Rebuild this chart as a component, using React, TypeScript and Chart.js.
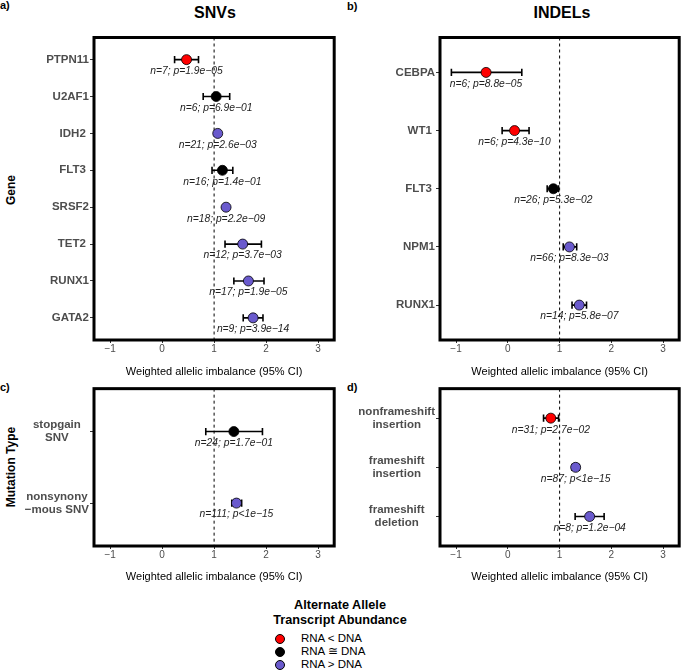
import React, { useEffect, useRef } from "react";
import { Chart, registerables } from "chart.js";

Chart.register(...registerables);

const FONT = '"Liberation Sans", Arial, Helvetica, sans-serif';

// ---- shared axis ----
const xTicks = [-1, 0, 1, 2, 3];
const xMin = -1.31;
const xMax = 3.31;
const refLine = 1;
const xTitle = "Weighted allelic imbalance (95% CI)";

const classColors: Record<string, string> = { lt: "#FF0000", eq: "#000000", gt: "#6A5ACD" };

// ---- a) SNVs by gene ----
const snvGenes = ["PTPN11", "U2AF1", "IDH2 ", "FLT3 ", "SRSF2", "TET2 ", "RUNX1", "GATA2"];
const snvEst = [0.47, 1.04, 1.07, 1.16, 1.23, 1.55, 1.66, 1.75];
const snvLo = [0.24, 0.79, 1.03, 0.96, 1.19, 1.21, 1.38, 1.56];
const snvHi = [0.7, 1.3, 1.11, 1.36, 1.27, 1.91, 1.96, 1.94];
const snvN = [7, 6, 21, 16, 18, 12, 17, 9];
const snvP = ["=1.9e-05", "=6.9e-01", "=2.6e-03", "=1.4e-01", "=2.2e-09", "=3.7e-03", "=1.9e-05", "=3.9e-14"];
const snvClass = ["lt", "eq", "gt", "eq", "gt", "gt", "gt", "gt"];

// ---- b) INDELs by gene ----
const indelGenes = ["CEBPA", "WT1 ", "FLT3 ", "NPM1", "RUNX1"];
const indelEst = [-0.42, 0.13, 0.88, 1.19, 1.38];
const indelLo = [-1.09, -0.11, 0.76, 1.07, 1.24];
const indelHi = [0.27, 0.41, 0.98, 1.33, 1.52];
const indelN = [6, 6, 26, 66, 14];
const indelP = ["=8.8e-05", "=4.3e-10", "=5.3e-02", "=8.3e-03", "=5.8e-07"];
const indelClass = ["lt", "lt", "eq", "gt", "gt"];

// ---- c) SNVs by mutation type ----
const snvTypes = [["stopgain", "SNV"], ["nonsynony", "\u2212mous SNV"]];
const snvTypeEst = [1.38, 1.43];
const snvTypeLo = [0.84, 1.34];
const snvTypeHi = [1.93, 1.53];
const snvTypeN = [24, 111];
const snvTypeP = ["=1.7e-01", "<1e-15"];
const snvTypeClass = ["eq", "gt"];

// ---- d) INDELs by mutation type ----
const indelTypes = [["nonframeshift", "insertion"], ["frameshift", "insertion"], ["frameshift", "deletion"]];
const indelTypeEst = [0.83, 1.31, 1.58];
const indelTypeLo = [0.69, 1.24, 1.3];
const indelTypeHi = [0.98, 1.38, 1.86];
const indelTypeN = [31, 87, 8];
const indelTypeP = ["=2.7e-02", "<1e-15", "=1.2e-04"];
const indelTypeClass = ["lt", "gt", "gt"];

const minus = (s: string) => s.replace(/-/g, "\u2212");

type PanelProps = {
  left: number;
  top: number;
  width: number;
  height: number;
  padTop: number;
  padRight: number;
  yAxisWidth: number;
  xAxisHeight: number;
  labels: (string | string[])[];
  est: number[];
  lo: number[];
  hi: number[];
  n: number[];
  p: string[];
  cls: string[];
  crossAlign: "near" | "center";
};

function Panel(props: PanelProps) {
  const ref = useRef<HTMLCanvasElement>(null);
  useEffect(() => {
    const { labels, est, lo, hi, n, p, cls } = props;
    const datasets: any[] = [
      {
        type: "scatter",
        data: est.map((v, i) => ({ x: v, y: i })),
        pointRadius: 5,
        pointBackgroundColor: cls.map((c) => classColors[c]),
        pointBorderColor: "#000",
        pointBorderWidth: 0.8,
        order: 0,
      },
    ];
    lo.forEach((l, i) => {
      datasets.push({
        type: "line",
        data: [
          { x: l, y: i },
          { x: hi[i], y: i },
        ],
        borderColor: "#000",
        borderWidth: 1.6,
        pointStyle: "line",
        pointRotation: 90,
        pointRadius: 3.6,
        pointBorderWidth: 1.6,
        pointBorderColor: "#000",
        pointBackgroundColor: "#000",
        fill: false,
        tension: 0,
        order: 1,
      });
    });

    const deco = {
      id: "deco",
      beforeDatasetsDraw(chart: any) {
        const { ctx, chartArea, scales } = chart;
        const x = scales.x.getPixelForValue(refLine);
        ctx.save();
        ctx.strokeStyle = "#000";
        ctx.lineWidth = 1;
        ctx.setLineDash([3, 3]);
        ctx.beginPath();
        ctx.moveTo(x, chartArea.top);
        ctx.lineTo(x, chartArea.bottom);
        ctx.stroke();
        ctx.restore();
      },
      afterDatasetsDraw(chart: any) {
        const { ctx, chartArea, scales } = chart;
        ctx.save();
        ctx.font = `italic 10.3px ${FONT}`;
        ctx.fillStyle = "#222";
        ctx.textAlign = "center";
        ctx.textBaseline = "middle";
        est.forEach((v, i) => {
          const x = scales.x.getPixelForValue(v);
          const y = scales.y.getPixelForValue(i) + 11.5;
          ctx.fillText(`n=${n[i]}; p${minus(p[i])}`, x, y);
        });
        ctx.strokeStyle = "#000";
        ctx.lineWidth = 3;
        ctx.strokeRect(chartArea.left, chartArea.top, chartArea.right - chartArea.left, chartArea.bottom - chartArea.top);
        ctx.restore();
      },
    };

    const chart = new Chart(ref.current as HTMLCanvasElement, {
      type: "scatter",
      data: { datasets },
      options: {
        animation: false,
        responsive: false,
        events: [],
        layout: { padding: { left: 0, right: props.padRight, top: props.padTop, bottom: 0 } },
        plugins: { legend: { display: false }, tooltip: { enabled: false } },
        scales: {
          x: {
            type: "linear",
            min: xMin,
            max: xMax,
            afterBuildTicks: (s: any) => {
              s.ticks = xTicks.map((v) => ({ value: v }));
            },
            afterFit: (s: any) => {
              s.height = props.xAxisHeight;
            },
            ticks: {
              callback: (v: any) => minus(String(v)),
              color: "#4D4D4D",
              font: { family: FONT, size: 10 },
              padding: 0,
              maxRotation: 0,
              autoSkip: false,
            },
            grid: { display: true, drawOnChartArea: false, drawTicks: true, tickLength: 3, tickColor: "#333", tickWidth: 1 },
            border: { display: false },
            title: {
              display: true,
              text: xTitle,
              color: "#000",
              font: { family: FONT, size: 11 },
              padding: { top: 0, bottom: 6.4 },
            },
          },
          y: {
            type: "linear",
            reverse: true,
            min: -0.6,
            max: labels.length - 0.4,
            afterBuildTicks: (s: any) => {
              s.ticks = labels.map((_, i) => ({ value: i }));
            },
            afterFit: (s: any) => {
              s.width = props.yAxisWidth;
            },
            ticks: {
              callback: (_v: any, i: number) => labels[i] as any,
              color: "#4D4D4D",
              font: { family: FONT, size: 11.5, weight: "bold", lineHeight: 1.1 },
              padding: 1,
              crossAlign: props.crossAlign,
              autoSkip: false,
            },
            grid: { display: true, drawOnChartArea: false, drawTicks: true, tickLength: 4, tickColor: "#333", tickWidth: 1 },
            border: { display: false },
          },
        },
      } as any,
      plugins: [deco],
    });
    return () => chart.destroy();
  }, []);
  return (
    <canvas
      ref={ref}
      width={props.width}
      height={props.height}
      style={{ position: "absolute", left: props.left, top: props.top, width: props.width, height: props.height }}
    />
  );
}

function T({ x, y, children, style }: { x: number; y: number; children: any; style?: any }) {
  return (
    <div
      style={{
        position: "absolute",
        left: x,
        top: y,
        transform: "translate(-50%,-50%)",
        whiteSpace: "nowrap",
        lineHeight: 1,
        ...style,
      }}
    >
      {children}
    </div>
  );
}

const legendTitle = ["Alternate Allele", "Transcript Abundance"];
const legendItems = [
  { cls: "lt", text: "RNA < DNA" },
  { cls: "eq", text: "RNA \u2245 DNA" },
  { cls: "gt", text: "RNA > DNA" },
];

export default function App() {
  const bold = { fontWeight: "bold" };
  return (
    <div style={{ position: "absolute", left: 0, top: 0, width: 685, height: 671, background: "#fff", fontFamily: FONT, overflow: "hidden" }}>
      <T x={215} y={13} style={{ ...bold, fontSize: 16 }}>SNVs</T>
      <T x={562} y={13} style={{ ...bold, fontSize: 16 }}>INDELs</T>
      <div style={{ position: "absolute", left: 0, top: -1, fontSize: 11, fontWeight: "bold" }}>a)</div>
      <div style={{ position: "absolute", left: 347, top: 0, fontSize: 11, fontWeight: "bold" }}>b)</div>
      <div style={{ position: "absolute", left: 0, top: 381, fontSize: 11, fontWeight: "bold" }}>c)</div>
      <div style={{ position: "absolute", left: 347, top: 381, fontSize: 11, fontWeight: "bold" }}>d)</div>
      <T x={11} y={190} style={{ ...bold, fontSize: 12, transform: "translate(-50%,-50%) rotate(-90deg)" }}>Gene</T>
      <T x={11} y={467} style={{ ...bold, fontSize: 12, transform: "translate(-50%,-50%) rotate(-90deg)" }}>Mutation Type</T>

      <Panel left={0} top={20} width={340} height={365} padTop={17.5} padRight={4.5} yAxisWidth={94} xAxisHeight={45}
        labels={snvGenes} est={snvEst} lo={snvLo} hi={snvHi} n={snvN} p={snvP} cls={snvClass} crossAlign="near" />
      <Panel left={345} top={20} width={340} height={365} padTop={17.5} padRight={2} yAxisWidth={95} xAxisHeight={45}
        labels={indelGenes} est={indelEst} lo={indelLo} hi={indelHi} n={indelN} p={indelP} cls={indelClass} crossAlign="near" />
      <Panel left={0} top={375} width={340} height={215} padTop={12.5} padRight={4.5} yAxisWidth={94} xAxisHeight={44}
        labels={snvTypes} est={snvTypeEst} lo={snvTypeLo} hi={snvTypeHi} n={snvTypeN} p={snvTypeP} cls={snvTypeClass} crossAlign="center" />
      <Panel left={345} top={375} width={340} height={215} padTop={12.5} padRight={2} yAxisWidth={95} xAxisHeight={44}
        labels={indelTypes} est={indelTypeEst} lo={indelTypeLo} hi={indelTypeHi} n={indelTypeN} p={indelTypeP} cls={indelTypeClass} crossAlign="center" />

      <T x={340} y={605} style={{ ...bold, fontSize: 12.7 }}>{legendTitle[0]}</T>
      <T x={340} y={620} style={{ ...bold, fontSize: 12.7 }}>{legendTitle[1]}</T>
      {legendItems.map((it, i) => (
        <React.Fragment key={i}>
          <div
            style={{
              position: "absolute",
              left: 275,
              top: 639 + i * 13 - 5,
              width: 10,
              height: 10,
              borderRadius: "50%",
              background: classColors[it.cls],
              border: "0.8px solid #000",
              boxSizing: "border-box",
            }}
          />
          <div style={{ position: "absolute", left: 301, top: 639 + i * 13, transform: "translateY(-50%)", fontSize: 11.5, lineHeight: 1, whiteSpace: "nowrap" }}>
            {it.text}
          </div>
        </React.Fragment>
      ))}
    </div>
  );
}
